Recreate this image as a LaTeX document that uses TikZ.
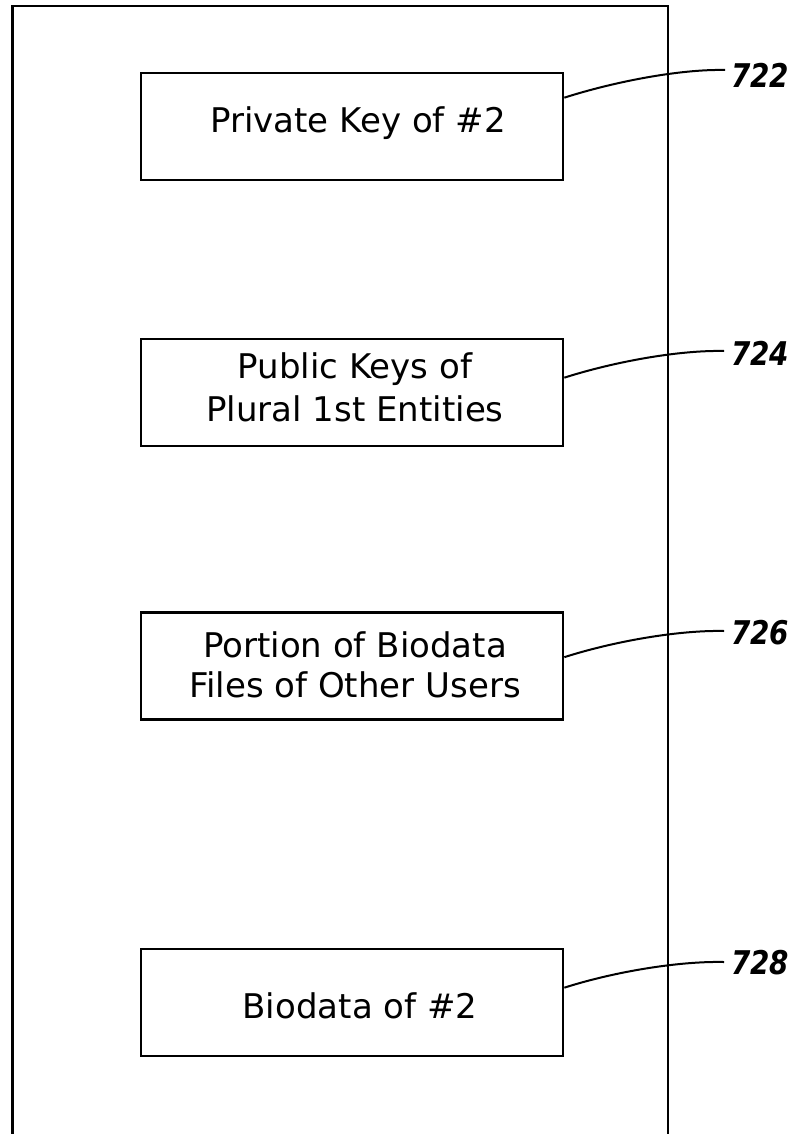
\documentclass[tikz,border=0pt]{standalone}
\usepackage{fontspec}
\setmainfont{DejaVu Sans}
\usetikzlibrary{calc}
\begin{document}
\begin{tikzpicture}[x=0.75pt,y=-0.75pt,
  stbox/.style={draw, line width=2pt, minimum width=316.5pt, minimum height=80.25pt, inner sep=0pt},
  txt/.style={inner sep=0pt, anchor=base, font=\fontsize{25.5}{32}\selectfont},
  lbl/.style={inner sep=0pt, anchor=west, font=\fontsize{24.5}{26}\selectfont\bfseries\itshape},
  leader/.style={line width=1.5pt}]
\useasboundingbox (0,0) rectangle (801,1134);
% outer frame (open at the bottom)
\draw[line width=2pt] (12.5,1134) -- (12.5,6) -- (668,6) -- (668,1134);
% boxes
\node[stbox] (b1) at (352,126.5) {};
\node[stbox] (b2) at (352,392.5) {};
\node[stbox] (b3) at (352,666) {};
\node[stbox] (b4) at (352,1002.5) {};
% texts
\node[txt] (t1) at (358,133) {Private Key of \#2};
\node[txt] (t2a) at (355,378) {Public Keys of};
\node[txt] (t2b) at (355,421) {Plural 1st Entities};
\node[txt] (t3a) at (355,657) {Portion of Biodata};
\node[txt] (t3b) at (355,697) {Files of Other Users};
\node[txt] (t4) at (360,1018) {Biodata of \#2};
% leader start and end points
\coordinate (s1) at ($(b1.north east)+(0,26)$);
\coordinate (s2) at ($(b2.north east)+(0,40)$);
\coordinate (s3) at ($(b3.north east)+(0,46)$);
\coordinate (s4) at ($(b4.north east)+(0,40)$);
\coordinate (e1) at (725,70);
\coordinate (e2) at (724,351);
\coordinate (e3) at (724,631);
\coordinate (e4) at (724,962);
% labels
\node[lbl] (l1) at (731,75) {\scalebox{0.85}[1]{722}};
\node[lbl] (l2) at (731,353) {\scalebox{0.85}[1]{724}};
\node[lbl] (l3) at (731,633) {\scalebox{0.85}[1]{726}};
\node[lbl] (l4) at (731,963) {\scalebox{0.85}[1]{728}};
% leaders
\draw[leader] (s1) .. controls +(50,-16) and +(-45,-1) .. (e1);
\draw[leader] (s2) .. controls +(50,-16) and +(-45,-1) .. (e2);
\draw[leader] (s3) .. controls +(50,-16) and +(-45,-1) .. (e3);
\draw[leader] (s4) .. controls +(50,-16) and +(-45,-1) .. (e4);
\end{tikzpicture}
\end{document}
